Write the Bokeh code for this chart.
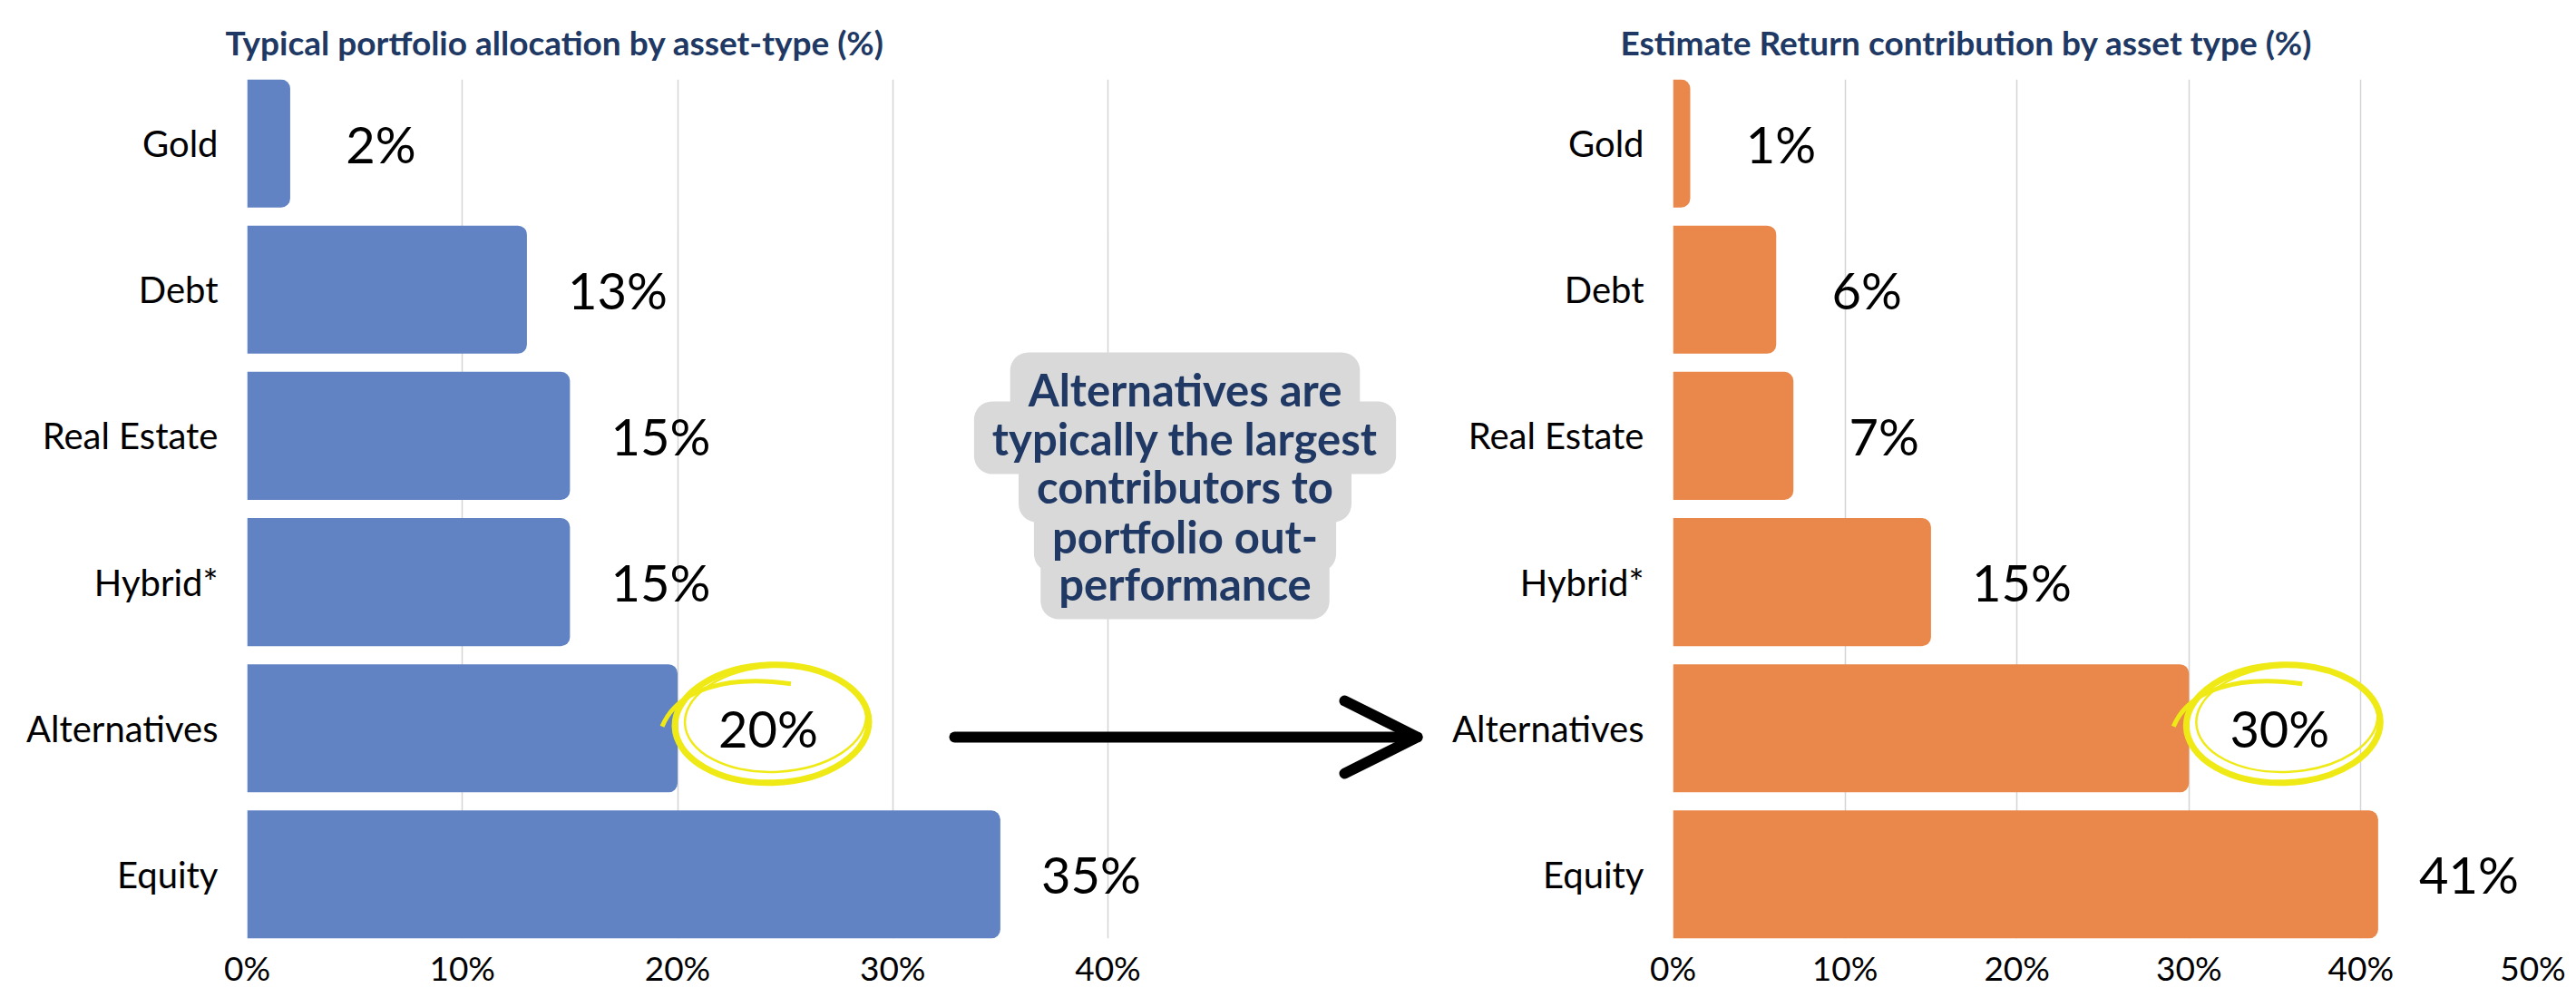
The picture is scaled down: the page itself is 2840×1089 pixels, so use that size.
from bokeh.plotting import figure
from bokeh.models import (ColumnDataSource, FixedTicker, PrintfTickFormatter,
                          Label, Arrow, OpenHead)
from bokeh.layouts import row
from bokeh.embed import file_html
from bokeh.resources import INLINE
from bokeh.core.properties import value

# ---------------- data ----------------
categories = ["Gold", "Debt", "Real Estate", "Hybrid*", "Alternatives", "Equity"]
allocation = [2, 13, 15, 15, 20, 35]
contribution = [1, 6, 7, 15, 30, 41]
left_ticks = [0, 10, 20, 30, 40]
right_ticks = [0, 10, 20, 30, 40, 50]
left_title = "Typical portfolio allocation by asset-type (%)"
right_title = "Estimate Return contribution by asset type (%)"
callout_lines = ["Alternatives are", "typically the largest", "contributors to",
                 "portfolio out-", "performance"]
highlight = "Alternatives"

# ---------------- style / layout ----------------
BLUE = "#6183C4"
ORANGE = "#E9884A"
NAVY = "#203864"
YELLOW = "#EFEA16"
GRID = "#D4D4D4"
CALLOUT_BG = "#D9D9D9"
FONT = "Lato"

N = len(categories)
positions = [N - 1 - i for i in range(N)]          # first category at top
BAR_FRAC = 0.876
Y0, Y1 = -BAR_FRAC / 2, (N - 1) + BAR_FRAC / 2
FRAME_H = 947
TOP, BOTTOM = 87, 55
YPX = FRAME_H / (Y1 - Y0)                           # px per category unit

LPX = 949 / 40.0      # left chart px per percent
RPX = 948 / 50.0      # right chart px per percent
FRAME_WL = 1308
FRAME_WR = 948
LABEL_DX = 100


def ydata(frame_py):
    """frame-relative pixel (from top) -> data y"""
    return Y1 - frame_py / YPX


def make_fig(title, vals, color, frame_w, xpx, ticks, min_left, min_right, title_offset):
    x_end = frame_w / xpx
    p = figure(frame_width=frame_w, frame_height=FRAME_H,
               x_range=(0, x_end), y_range=(Y0, Y1),
               min_border_left=min_left, min_border_right=min_right,
               min_border_top=TOP, min_border_bottom=BOTTOM,
               toolbar_location=None, output_backend="svg",
               outline_line_color=None, title=title)
    p.title.text_font = FONT
    p.title.text_font_size = "37px"
    p.title.text_font_style = "bold"
    p.title.text_color = NAVY
    p.title.align = "left"
    p.title.vertical_align = "top"
    p.title.offset = title_offset
    p.title.standoff = 34

    src = ColumnDataSource(dict(cat=categories, pos=positions, val=vals,
                                lab=[f"{v}%" for v in vals]))
    p.hbar(y="pos", left=0, right="val", height=BAR_FRAC, source=src,
           fill_color=color, line_color=None, border_radius=(0, 10, 10, 0))
    p.text(x="val", y="pos", text="lab", source=src, x_offset=LABEL_DX,
           text_align="center", text_baseline="middle",
           text_font=value(FONT), text_font_size="56px", text_color="black")

    tk = FixedTicker(ticks=ticks)
    p.xaxis.ticker = tk
    p.xgrid.ticker = tk
    p.xaxis.formatter = PrintfTickFormatter(format="%d%%")
    p.xgrid.grid_line_color = GRID
    p.xgrid.grid_line_width = 1.5
    p.ygrid.visible = False

    p.yaxis.ticker = FixedTicker(ticks=positions)
    p.yaxis.major_label_overrides = {pos: c for pos, c in zip(positions, categories)}

    for ax in (p.xaxis[0], p.yaxis[0]):
        ax.axis_line_color = None
        ax.major_tick_line_color = None
        ax.minor_tick_line_color = None
        ax.major_label_text_font = FONT
        ax.major_label_text_color = "black"
    p.xaxis.major_label_text_font_size = "37px"
    p.xaxis.major_label_standoff = 3
    p.yaxis.major_label_text_font_size = "40px"
    p.yaxis.major_label_standoff = 26

    # highlight ring around the chosen value label
    i = categories.index(highlight)
    cx = vals[i] + (LABEL_DX + 4) / xpx
    cy = positions[i] + 5 / YPX
    p.ellipse(x=[cx], y=[cy], width=214, height=130, width_units="screen",
              height_units="screen", angle=0.03, fill_color=None,
              line_color=YELLOW, line_width=7)
    p.ellipse(x=[cx + 4 / xpx], y=[cy + 5 / YPX], width=200, height=116,
              width_units="screen", height_units="screen", angle=0.05,
              fill_color=None, line_color=YELLOW, line_width=2.5)
    p.bezier(x0=[cx - 121 / xpx], y0=[cy - 3 / YPX],
             cx0=[cx - 104 / xpx], cy0=[cy + 38 / YPX],
             cx1=[cx - 50 / xpx], cy1=[cy + 54 / YPX],
             x1=[cx + 21 / xpx], y1=[cy + 44 / YPX],
             line_color=YELLOW, line_width=5)
    return p


left = make_fig(left_title, allocation, BLUE, FRAME_WL, LPX, left_ticks,
                272, 10, -24)
right = make_fig(right_title, contribution, ORANGE, FRAME_WR, RPX, right_ticks,
                 254, 48, -58)

# callout (left figure; frame-relative pixel positions converted to data)
CALLOUT_X = 1034 / LPX
line_py = [341, 395, 448, 503, 555]
common = dict(text_align="center", text_baseline="middle", text_font=FONT,
              text_font_size="49px", text_font_style="bold")
# backgrounds first (text drawn in the background colour)
for txt, py in zip(callout_lines, line_py):
    left.add_layout(Label(x=CALLOUT_X, y=ydata(py), text=txt, text_color=CALLOUT_BG,
                          background_fill_color=CALLOUT_BG, background_fill_alpha=1.0,
                          border_radius=20,
                          padding=dict(left=20, right=20, top=11, bottom=11),
                          **common))
# then text on top
for txt, py in zip(callout_lines, line_py):
    left.add_layout(Label(x=CALLOUT_X, y=ydata(py), text=txt, text_color=NAVY,
                          **common))

# arrow
left.add_layout(Arrow(start=None,
                      end=OpenHead(size=80, line_width=12, line_color="black",
                                   line_cap="round", line_join="round"),
                      x_start=780 / LPX, y_start=ydata(725),
                      x_end=1290 / LPX, y_end=ydata(725),
                      line_width=12, line_color="black", line_cap="round"))

layout = row(left, right)
open("out.html", "w").write(file_html(layout, INLINE))
